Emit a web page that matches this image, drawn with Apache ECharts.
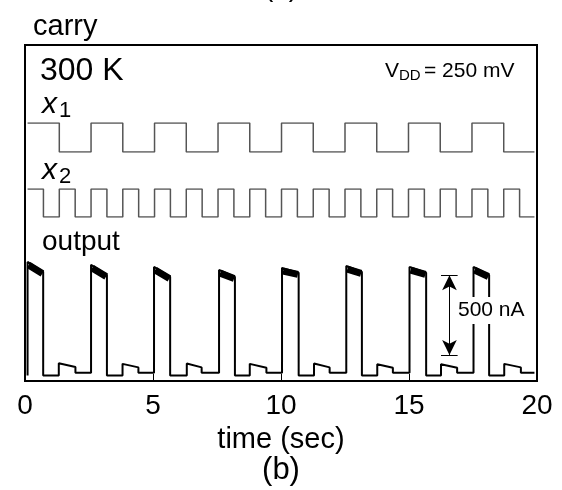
<!DOCTYPE html>
<html>
<head>
<meta charset="utf-8">
<script src="https://cdn.jsdelivr.net/npm/echarts@6/dist/echarts.min.js"></script>
<style>
  html, body { margin: 0; padding: 0; background: #fff; }
  #chart { width: 562px; height: 490px; }
</style>
</head>
<body>
<div id="chart"></div>
<script>
// x1 input: edge times (sec) and level after each edge
var x1Edges  = [0.10, 1.34, 2.58, 3.82, 5.06, 6.30, 7.54, 8.78, 10.02, 11.26, 12.50, 13.74, 14.98, 16.22, 17.46, 18.70, 19.90];
var x1Levels = [1, 0, 1, 0, 1, 0, 1, 0, 1, 0, 1, 0, 1, 0, 1, 0, 0];

// x2 input
var x2Edges  = [0.10, 0.72, 1.34, 1.96, 2.58, 3.20, 3.82, 4.44, 5.06, 5.68, 6.30, 6.92, 7.54, 8.16, 8.78, 9.40,
                10.02, 10.64, 11.26, 11.88, 12.50, 13.12, 13.74, 14.36, 14.98, 15.60, 16.22, 16.84, 17.46, 18.08, 18.70, 19.32, 19.90];
var x2Levels = [1, 0, 1, 0, 1, 0, 1, 0, 1, 0, 1, 0, 1, 0, 1, 0,
                1, 0, 1, 0, 1, 0, 1, 0, 1, 0, 1, 0, 1, 0, 1, 0, 0];

// output current (nA): high pulses and small bumps
var pulseRise  = [0.10, 2.58, 5.04, 7.58, 10.04, 12.55, 15.02, 17.52];
var pulseFall  = [0.71, 3.20, 5.67, 8.20, 10.69, 13.16, 15.67, 18.13];
var pulseTop   = [709, 691, 678, 659, 672, 684, 678, 678];
var pulseEnd   = [647, 628, 616, 616, 641, 647, 641, 628];
var bumpStart  = [1.32, 3.81, 6.32, 8.78, 11.29, 13.76, 16.25, 18.72];
var bumpEnd    = [1.97, 4.43, 6.90, 9.43, 11.90, 14.37, 16.88, 19.37];
var bumpHigh   = [76, 72, 74, 72, 74, 70, 70, 72];
var bumpLow    = [52, 50, 50, 48, 50, 48, 48, 50];
var stepLevel  = 16;
var endTime    = 19.90;

function stepData(edges, levels) {
    return edges.map(function (t, i) { return [t, levels[i]]; });
}

var outData = [];
var topData = [];
for (var i = 0; i < pulseRise.length; i++) {
    outData.push([pulseRise[i], i === 0 ? 0 : stepLevel]);
    outData.push([pulseRise[i], pulseTop[i]]);
    outData.push([pulseFall[i], pulseEnd[i]]);
    outData.push([pulseFall[i], 0]);
    outData.push([bumpStart[i], 0]);
    outData.push([bumpStart[i], bumpHigh[i]]);
    outData.push([bumpEnd[i], bumpLow[i]]);
    outData.push([bumpEnd[i], stepLevel]);
    topData.push([pulseRise[i] + 0.04, pulseTop[i] - 20]);
    topData.push([pulseFall[i] - 0.03, pulseEnd[i] - 10]);
    topData.push(null);
}
outData.push([endTime, stepLevel]);

var L = 25, R = 25, T = 45, B = 109;

var option = {
    animation: false,
    backgroundColor: '#fff',
    textStyle: { fontFamily: 'Liberation Sans, Arial, sans-serif', color: '#000' },
    grid: [
        { left: L, right: R, top: T, bottom: B, show: true, borderColor: '#000', borderWidth: 2 },
        { left: L, right: R, top: 123, height: 29 },
        { left: L, right: R, top: 189, height: 28 },
        { left: L, right: R, top: 256, bottom: B }
    ],
    xAxis: [
        {
            gridIndex: 0, type: 'value', min: 0, max: 20, interval: 5,
            axisLine: { lineStyle: { color: '#000', width: 2 } },
            axisTick: { inside: true, length: 7, lineStyle: { color: '#000', width: 1 } },
            axisLabel: { fontSize: 28, color: '#000', margin: 11 },
            splitLine: { show: false },
            name: 'time (sec)', nameLocation: 'middle', nameGap: 44,
            nameTextStyle: { fontSize: 29, color: '#000' }
        },
        { gridIndex: 1, type: 'value', min: 0, max: 20, show: false },
        { gridIndex: 2, type: 'value', min: 0, max: 20, show: false },
        { gridIndex: 3, type: 'value', min: 0, max: 20, show: false }
    ],
    yAxis: [
        { gridIndex: 0, type: 'value', min: 0, max: 1, show: false },
        { gridIndex: 1, type: 'value', min: 0, max: 1, show: false },
        { gridIndex: 2, type: 'value', min: 0, max: 1, show: false },
        { gridIndex: 3, type: 'value', min: -35, max: 746, show: false }
    ],
    series: [
        {
            name: 'x1', type: 'line', xAxisIndex: 1, yAxisIndex: 1, step: 'end',
            showSymbol: false, data: stepData(x1Edges, x1Levels),
            lineStyle: { color: '#555', width: 1.5 }
        },
        {
            name: 'x2', type: 'line', xAxisIndex: 2, yAxisIndex: 2, step: 'end',
            showSymbol: false, data: stepData(x2Edges, x2Levels),
            lineStyle: { color: '#555', width: 1.5 }
        },
        {
            name: 'output', type: 'line', xAxisIndex: 3, yAxisIndex: 3,
            showSymbol: false, data: outData,
            lineStyle: { color: '#000', width: 2 },
            markLine: {
                silent: true, animation: false,
                label: { show: false },
                lineStyle: { color: '#000', width: 1, type: 'solid' },
                symbol: ['arrow', 'arrow'], symbolSize: [11, 15],
                data: [
                    [{ coord: [16.58, 625] }, { coord: [16.58, 128] }],
                    [{ coord: [16.25, 625], symbol: 'none' }, { coord: [16.90, 625], symbol: 'none' }],
                    [{ coord: [16.25, 128], symbol: 'none' }, { coord: [16.90, 128], symbol: 'none' }]
                ]
            }
        },
        {
            name: 'output top', type: 'line', xAxisIndex: 3, yAxisIndex: 3,
            showSymbol: false, data: topData, connectNulls: false,
            lineStyle: { color: '#000', width: 7 }
        }
    ],
    graphic: [
        { type: 'text', left: 'center', top: -26, style: { text: '(a)', font: '28px Liberation Sans', fill: '#000' } },
        { type: 'text', x: 33, y: 12, style: { text: 'carry', font: '29px Liberation Sans', fill: '#000' } },
        { type: 'text', x: 40, y: 55, style: { text: '300 K', font: '32px Liberation Sans', fill: '#000' } },
        { type: 'text', x: 385, y: 61, style: { text: 'V', font: '21px Liberation Sans', fill: '#000' } },
        { type: 'text', x: 399, y: 68, style: { text: 'DD', font: '15px Liberation Sans', fill: '#000' } },
        { type: 'text', x: 424, y: 61, style: { text: '= 250 mV', font: '21px Liberation Sans', fill: '#000' } },
        { type: 'text', x: 42, y: 90, style: { text: 'x', font: 'italic 30px Liberation Sans', fill: '#000' } },
        { type: 'text', x: 59, y: 100, style: { text: '1', font: '22px Liberation Sans', fill: '#000' } },
        { type: 'text', x: 42, y: 156, style: { text: 'x', font: 'italic 30px Liberation Sans', fill: '#000' } },
        { type: 'text', x: 59, y: 166, style: { text: '2', font: '22px Liberation Sans', fill: '#000' } },
        { type: 'text', x: 42, y: 228, style: { text: 'output', font: '28px Liberation Sans', fill: '#000' } },
        {
            type: 'text', x: 456, y: 297, z: 100,
            style: { text: '500 nA', font: '21px Liberation Sans', fill: '#000', backgroundColor: '#fff', padding: [3, 2] }
        },
        { type: 'text', left: 'center', y: 455, style: { text: '(b)', font: '31px Liberation Sans', fill: '#000' } }
    ]
};

var chart = echarts.init(document.getElementById('chart'));
chart.setOption(option);
</script>
</body>
</html>
